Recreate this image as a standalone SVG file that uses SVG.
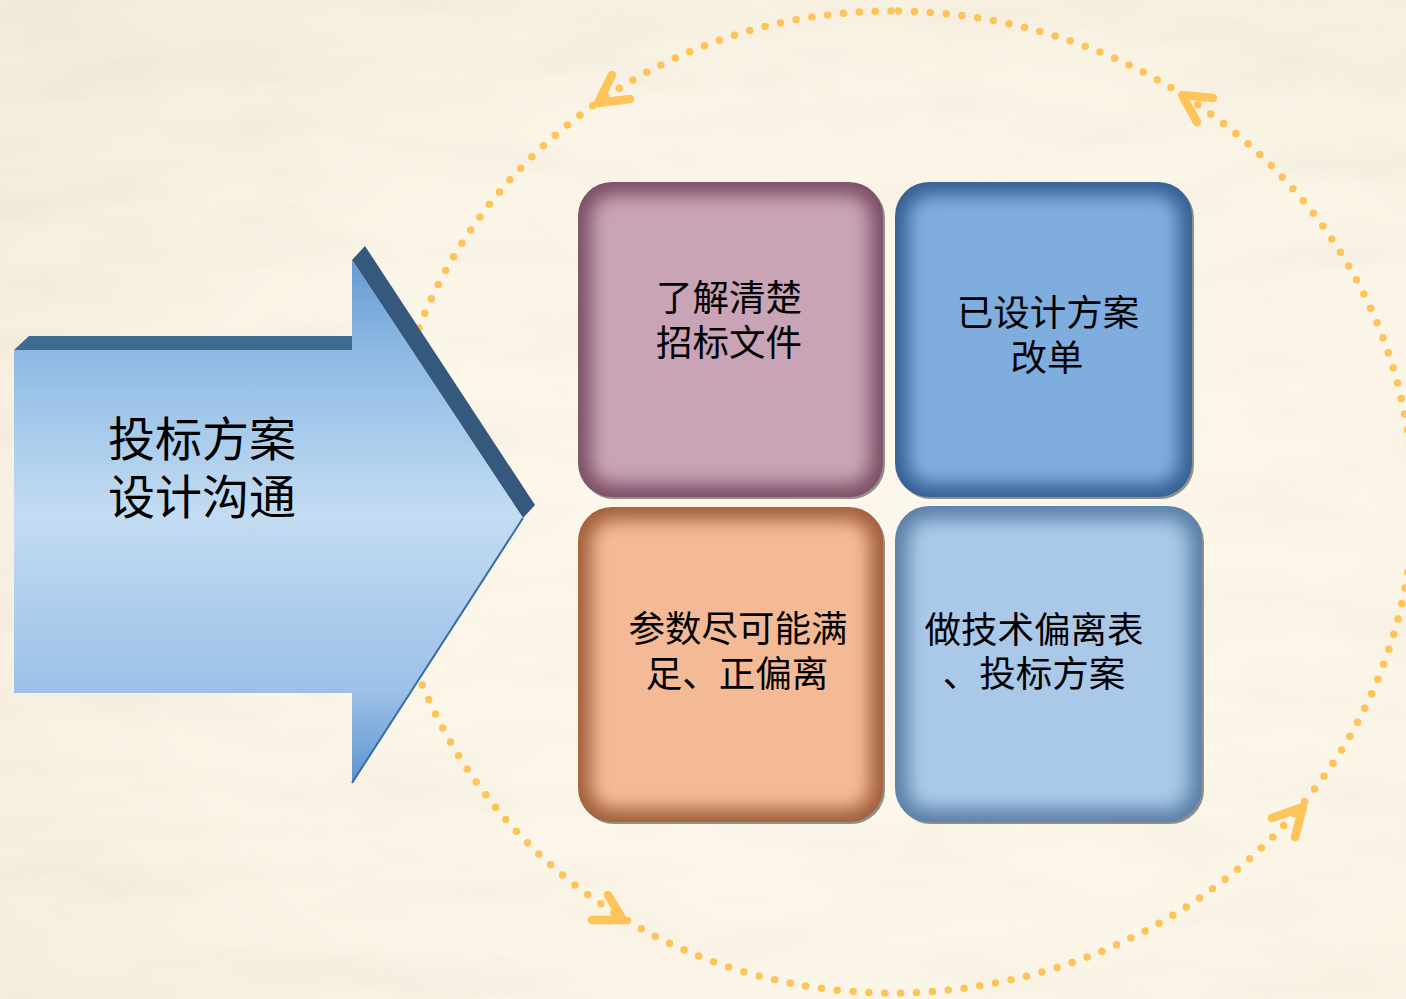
<svg xmlns="http://www.w3.org/2000/svg" width="1406" height="999" viewBox="0 0 1406 999">
<style>
.lbl{font-family:"Noto Sans CJK SC","Noto Sans CJK JP",sans-serif;fill:#000;text-anchor:middle}
.big{font-size:47px;text-anchor:start}
.bx{font-size:36.5px}
.dots{fill:none;stroke:#FEC45A;stroke-width:7.5;stroke-linecap:round;stroke-dasharray:0 15.9}
.chev{fill:none;stroke:#FEC45A;stroke-width:8.5;stroke-linecap:round;stroke-linejoin:round}
.shd{fill:#3a3a3a;opacity:0.55}
</style>
<defs>
<filter id="paper" x="0" y="0" width="100%" height="100%">
<feTurbulence type="fractalNoise" baseFrequency="0.006 0.022" numOctaves="5" seed="11"/>
<feColorMatrix type="matrix" values="0 0 0 0 0.58  0 0 0 0 0.54  0 0 0 0 0.46  1.1 0 0 0 -0.45"/>
</filter>
<radialGradient id="bgGlow" cx="0.62" cy="0.58" r="0.75">
<stop offset="0" stop-color="#FFFAF0" stop-opacity="0.75"/>
<stop offset="0.6" stop-color="#FDF7EA" stop-opacity="0.25"/>
<stop offset="1" stop-color="#E6DAC4" stop-opacity="0.3"/>
</radialGradient>
<linearGradient id="arrowFace" gradientUnits="userSpaceOnUse" x1="0" y1="246" x2="0" y2="783">
<stop offset="0" stop-color="#5E96D0"/>
<stop offset="0.194" stop-color="#8DB9E4"/>
<stop offset="0.5" stop-color="#C3DCF2"/>
<stop offset="0.832" stop-color="#9CC0E8"/>
<stop offset="1" stop-color="#5B93D0"/>
</linearGradient>
<filter id="soft" x="-20%" y="-20%" width="140%" height="140%">
<feGaussianBlur stdDeviation="9"/>
</filter>
<clipPath id="c1"><rect x="578" y="182" width="305" height="315" rx="34"/></clipPath>
<clipPath id="c2"><rect x="895" y="182" width="297" height="315" rx="34"/></clipPath>
<clipPath id="c3"><rect x="578" y="507" width="305" height="315" rx="34"/></clipPath>
<clipPath id="c4"><rect x="895" y="506" width="307" height="316" rx="34"/></clipPath>
</defs>

<g id="background">
<rect width="1406" height="999" fill="#FBF5E7"/>
<rect width="1406" height="999" filter="url(#paper)" opacity="0.3"/>
<rect width="1406" height="999" fill="url(#bgGlow)"/>
</g>

<g id="connectors">
<path class="dots" d="M 891 11 A 505 491 0 0 0 386 502 A 505 491 0 0 0 891 993 A 522 491 0 0 0 1413 502 A 522 491 0 0 0 891 11"/>
<path class="chev" d="M 612 75 L 598 103 L 630 99"/>
<path class="chev" d="M 1213 98 L 1182 95 L 1197 122"/>
<path class="chev" d="M 608 895 L 623 920 L 592 920"/>
<path class="chev" d="M 1272 818 L 1303 807 L 1295 837"/>
</g>

<g id="main-arrow">
<polygon points="14,350 29,336 352,336 352,350" fill="#3F6A91"/>
<polygon points="352,260 365,246 535,505 523,518" fill="#35597D"/>
<polygon points="14,350 352,350 352,260 523,518 352,783 352,693 14,693" fill="url(#arrowFace)"/>
<line x1="523" y1="518" x2="352" y2="783" stroke="#3B6C9E" stroke-width="2"/>
<text class="lbl big" x="108" y="456">投标方案</text>
<text class="lbl big" x="108" y="514">设计沟通</text>
</g>

<g id="box1">
<rect class="shd" x="580" y="184" width="305" height="315" rx="34"/>
<rect x="578" y="182" width="305" height="315" rx="34" fill="#7C4F66"/>
<rect x="591" y="195" width="279" height="289" rx="22" fill="#C8A4B6" filter="url(#soft)" clip-path="url(#c1)"/>
<text class="lbl bx" x="729" y="311">了解清楚</text>
<text class="lbl bx" x="729" y="356">招标文件</text>
</g>

<g id="box2">
<rect class="shd" x="897" y="184" width="297" height="315" rx="34"/>
<rect x="895" y="182" width="297" height="315" rx="34" fill="#355F92"/>
<rect x="908" y="195" width="271" height="289" rx="22" fill="#7EADDE" filter="url(#soft)" clip-path="url(#c2)"/>
<text class="lbl bx" x="1048" y="326">已设计方案</text>
<text class="lbl bx" x="1047" y="371">改单</text>
</g>

<g id="box3">
<rect class="shd" x="580" y="509" width="305" height="315" rx="34"/>
<rect x="578" y="507" width="305" height="315" rx="34" fill="#A05F39"/>
<rect x="591" y="520" width="279" height="289" rx="22" fill="#F4BA96" filter="url(#soft)" clip-path="url(#c3)"/>
<text class="lbl bx" x="738" y="642">参数尽可能满</text>
<text class="lbl bx" x="737" y="687">足、正偏离</text>
</g>

<g id="box4">
<rect class="shd" x="897" y="508" width="307" height="316" rx="34"/>
<rect x="895" y="506" width="307" height="316" rx="34" fill="#5A80A8"/>
<rect x="908" y="519" width="281" height="290" rx="22" fill="#AAC9E8" filter="url(#soft)" clip-path="url(#c4)"/>
<text class="lbl bx" x="1034" y="643">做技术偏离表</text>
<text class="lbl bx" x="1034" y="687">、投标方案</text>
</g>
</svg>
